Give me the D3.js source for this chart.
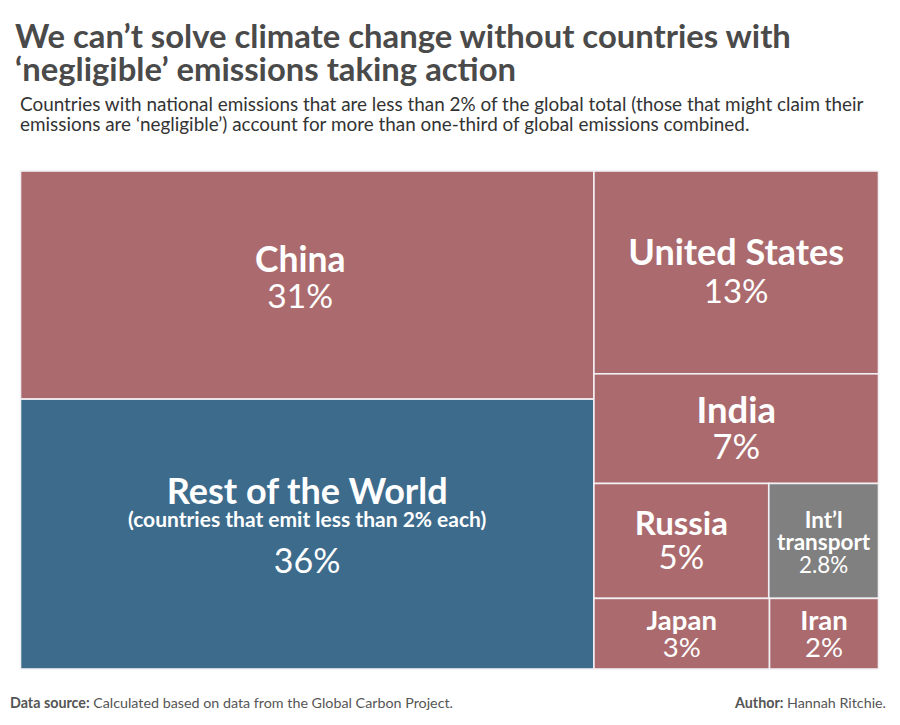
<!DOCTYPE html>
<html>
<head>
<meta charset="utf-8">
<script src="https://cdn.jsdelivr.net/npm/d3@7/dist/d3.min.js"></script>
<style>
  html, body { margin: 0; padding: 0; background: #fff; }
  svg { display: block; }
</style>
</head>
<body>
<svg id="chart" width="900" height="725"></svg>
<script>
// ---- Data ----
const names   = ["China", "Rest of the World", "United States", "India", "Russia", "Int\u2019l transport", "Japan", "Iran"];
const labels  = ["31%", "36%", "13%", "7%", "5%", "2.8%", "3%", "2%"];
// area shares used for the treemap layout
const shares  = [30.6, 36.2, 13.5, 7.3, 4.7, 2.95, 2.9, 1.8];
const columns = ["left", "left", "right", "right", "right", "right", "right", "right"];
const rows    = ["China", "Rest", "US", "India", "RussiaRow", "RussiaRow", "JapanRow", "JapanRow"];
const groups  = ["country", "rest", "country", "country", "country", "transport", "country", "country"];

// ---- Styles ----
const colors = { country: "#ab6b6e", rest: "#3d6b8c", transport: "#808080" };
// [text, font-size, weight, dy from centre, dx from centre]
const labelStyle = {
  "China":             { lines: [["China", 35.5, 700, -13, -7], ["%", 33.5, 400, 23, -7]] },
  "Rest of the World": { lines: [["Rest of the World", 36, 700, -30, 0], ["(countries that emit less than 2% each)", 21, 700, -7, 0], ["%", 34, 400, 39, 0]] },
  "United States":     { lines: [["United States", 36, 700, -7.5, 0], ["%", 33, 400, 30.5, 0]] },
  "India":             { lines: [["India", 36.5, 700, -5.5, 0], ["%", 34.5, 400, 30.5, 0]] },
  "Russia":            { lines: [["Russia", 33, 700, -5.5, 0], ["%", 33, 400, 28.5, 0]] },
  "Int\u2019l transport": { lines: [["Int\u2019l", 22.5, 700, -12.5, 0], ["transport", 22.5, 700, 9.5, 0], ["%", 22.4, 400, 32.5, 0]] },
  "Japan":             { lines: [["Japan", 27.5, 700, -3.5, 0], ["%", 27.5, 400, 23.5, 0]] },
  "Iran":              { lines: [["Iran", 27.5, 700, -3.5, 0], ["%", 27.5, 400, 23.5, 0]] }
};

const svg = d3.select("#chart");
const font = "Lato, 'Open Sans', sans-serif";

// Title
const title = svg.append("text").attr("x", 15).attr("font-family", font)
  .attr("font-weight", 700).attr("font-size", 32.8).attr("fill", "#4a4a4a");
title.append("tspan").attr("x", 15).attr("y", 48).text("We can\u2019t solve climate change without countries with");
title.append("tspan").attr("x", 15).attr("y", 81).text("\u2018negligible\u2019 emissions taking action");

// Subtitle
const sub = svg.append("text").attr("font-family", font).attr("font-size", 18.9).attr("fill", "#333");
sub.append("tspan").attr("x", 20).attr("y", 111).text("Countries with national emissions that are less than 2% of the global total (those that might claim their");
sub.append("tspan").attr("x", 20).attr("y", 131).text("emissions are \u2018negligible\u2019) account for more than one-third of global emissions combined.");

// ---- Build hierarchy ----
const leaves = names.map((n, i) => ({ name: n, label: labels[i], share: shares[i], col: columns[i], row: rows[i], group: groups[i] }));
const colGroups = d3.groups(leaves, d => d.col).map(([c, items]) => ({
  name: c,
  children: d3.groups(items, d => d.row).map(([r, its]) => ({ name: r, children: its }))
}));
const root = d3.hierarchy({ name: "root", children: colGroups })
  .sum(d => d.children ? 0 : d.share);

const tile = (node, x0, y0, x1, y1) => {
  (node.depth % 2 === 0 ? d3.treemapDice : d3.treemapSlice)(node, x0, y0, x1, y1);
};

d3.treemap().tile(tile).size([858, 498]).round(false)(root);

const g = svg.append("g").attr("transform", "translate(20.5,171)");

const cell = g.selectAll("g.cell").data(root.leaves()).join("g").attr("class", "cell");

cell.append("rect")
  .attr("x", d => d.x0).attr("y", d => d.y0)
  .attr("width", d => d.x1 - d.x0).attr("height", d => d.y1 - d.y0)
  .attr("fill", d => colors[d.data.group])
  .attr("stroke", "#f2f0f4").attr("stroke-width", 1.6);

cell.each(function(d) {
  const cx = (d.x0 + d.x1) / 2, cy = (d.y0 + d.y1) / 2;
  const st = labelStyle[d.data.name];
  const sel = d3.select(this);
  st.lines.forEach(([txt, size, weight, dy, dx]) => {
    sel.append("text")
      .attr("x", cx + dx).attr("y", cy + dy)
      .attr("text-anchor", "middle")
      .attr("font-family", font).attr("font-size", size).attr("font-weight", weight)
      .attr("fill", "#fff")
      .text(txt === "%" ? d.data.label : txt);
  });
});

// Footer
const foot = svg.append("text").attr("x", 10).attr("y", 708).attr("font-family", font)
  .attr("font-size", 14.3).attr("fill", "#555");
foot.append("tspan").attr("font-weight", 700).text("Data source: ");
foot.append("tspan").text("Calculated based on data from the Global Carbon Project.");

const auth = svg.append("text").attr("x", 886).attr("y", 708).attr("text-anchor", "end")
  .attr("font-family", font).attr("font-size", 14.3).attr("fill", "#555");
auth.append("tspan").attr("font-weight", 700).text("Author: ");
auth.append("tspan").text("Hannah Ritchie.");
</script>
</body>
</html>
